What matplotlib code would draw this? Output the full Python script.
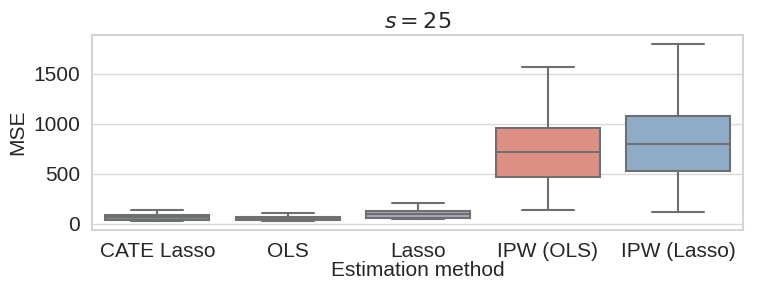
import matplotlib
matplotlib.use("Agg")
import matplotlib.pyplot as plt
import seaborn as sns

methods = ["CATE Lasso", "OLS", "Lasso", "IPW (OLS)", "IPW (Lasso)"]
whislo = [25, 25, 45, 140, 117]
q1 = [40, 35, 63, 467, 530]
med = [65, 55, 95, 723, 800]
q3 = [90, 73, 130, 957, 1080]
whishi = [143, 107, 207, 1573, 1797]
colors = ["#7d9088", "#6e6e70", "#a8a6be", "#dd8f83", "#8eabc7"]

sns.set_theme(style="whitegrid")
plt.rcParams['font.family'] = ['Liberation Sans', 'DejaVu Sans']

fig = plt.figure(figsize=(7.63, 2.91), dpi=100)
ax = fig.add_axes([0.121, 0.21, 0.853, 0.67])

stats = []
for i, m in enumerate(methods):
    stats.append(dict(label=m, whislo=whislo[i], q1=q1[i], med=med[i], q3=q3[i], whishi=whishi[i], fliers=[]))

lc = "#6f6f6f"
bp = ax.bxp(stats, positions=range(len(methods)), widths=0.8, patch_artist=True,
            showfliers=False,
            boxprops=dict(edgecolor=lc, linewidth=1.5),
            medianprops=dict(color=lc, linewidth=1.5),
            whiskerprops=dict(color=lc, linewidth=1.5),
            capprops=dict(color=lc, linewidth=1.5))
for patch, c in zip(bp['boxes'], colors):
    patch.set_facecolor(c)

ax.set_xlim(-0.5, len(methods) - 0.5)
ax.set_ylim(-60, 1890)
ax.set_yticks([0, 500, 1000, 1500])
ax.tick_params(labelsize=15, pad=3)
ax.set_xlabel("Estimation method", fontsize=15, labelpad=0)
ax.set_ylabel("MSE", fontsize=15, labelpad=4)
ax.set_title("$s = 25$", fontsize=16, pad=5)
ax.grid(axis='x', visible=False)
ax.grid(axis='y', color="#d9d9d9")
for s in ax.spines.values():
    s.set_color("#d4d4d4")
    s.set_linewidth(1.5)

fig.savefig("out.png", dpi=100)
